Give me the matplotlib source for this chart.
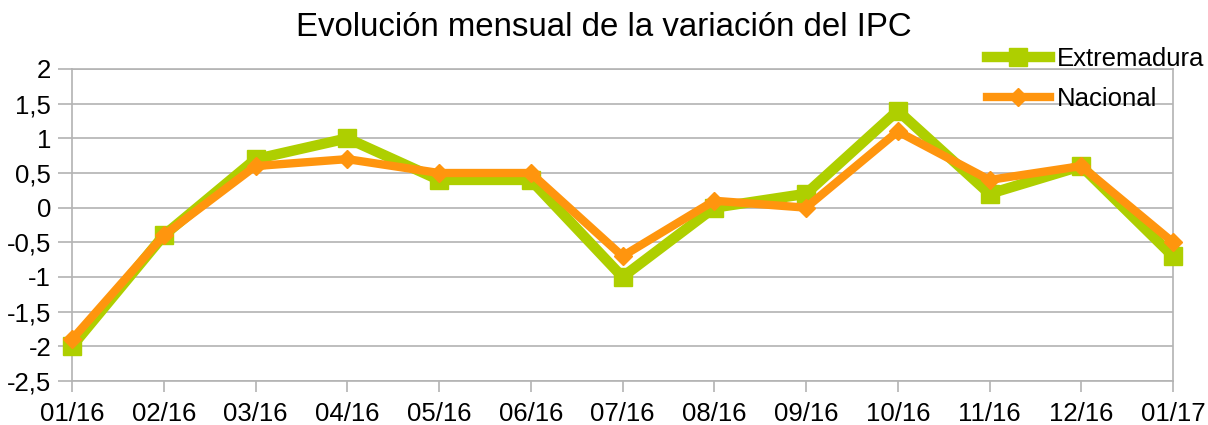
"""
Evolución mensual de la variación del IPC
"""
import numpy as np
import matplotlib.pyplot as plt

meses = ['01/16', '02/16', '03/16', '04/16', '05/16', '06/16', '07/16',
         '08/16', '09/16', '10/16', '11/16', '12/16', '01/17']
extremadura = [-2.0, -0.4, 0.7, 1.0, 0.4, 0.4, -1.0, 0.0, 0.2, 1.4, 0.2, 0.6, -0.7]
nacional = [-1.9, -0.4, 0.6, 0.7, 0.5, 0.5, -0.7, 0.1, 0.0, 1.1, 0.4, 0.6, -0.5]
y_ticks = [-2.5, -2, -1.5, -1, -0.5, 0, 0.5, 1, 1.5, 2]

plt.rcParams['font.family'] = ['Liberation Sans', 'DejaVu Sans']

fig = plt.figure(figsize=(12.08, 4.25), dpi=100)
ax = fig.add_axes([72 / 1208, 1 - 381 / 425, (1173 - 72) / 1208, (381 - 69) / 425])

x = np.arange(len(meses))
gris = '#b3b3b3'

ax.plot(x, extremadura, color='#aecf00', lw=7.5, marker='s', ms=13,
        label='Extremadura', clip_on=False, zorder=3)
ax.plot(x, nacional, color='#ff950e', lw=6, marker='D', ms=9,
        label='Nacional', clip_on=False, zorder=4)

ax.set_xlim(0, len(meses) - 1)
ax.set_ylim(-2.5, 2)
ax.set_xticks(x)
ax.set_xticklabels(meses, fontsize=18.5)
ax.set_yticks(y_ticks)
ax.set_yticklabels([f'{v:g}'.replace('.', ',') for v in y_ticks], fontsize=18.5)

ax.grid(axis='y', color=gris, lw=1.2)
ax.set_axisbelow(True)
ax.tick_params(axis='x', length=8, color=gris, width=1.2, pad=7)
ax.tick_params(axis='y', length=10, color=gris, width=1.2, pad=5)
for lado in ['left', 'right', 'bottom', 'top']:
    ax.spines[lado].set_color(gris)
    ax.spines[lado].set_linewidth(1.2)

fig.text(0.5, 1 - 28 / 425, 'Evolución mensual de la variación del IPC', ha='center',
         va='center', fontsize=23.8)

ax.legend(loc='upper left', bbox_to_anchor=(987 / 1208, 1 - 47 / 425),
          bbox_transform=fig.transFigure, frameon=False, fontsize=18.5,
          handlelength=2.45, handletextpad=0.28, labelspacing=0.62,
          borderaxespad=0, borderpad=0)

plt.savefig('out.png', dpi=100)
